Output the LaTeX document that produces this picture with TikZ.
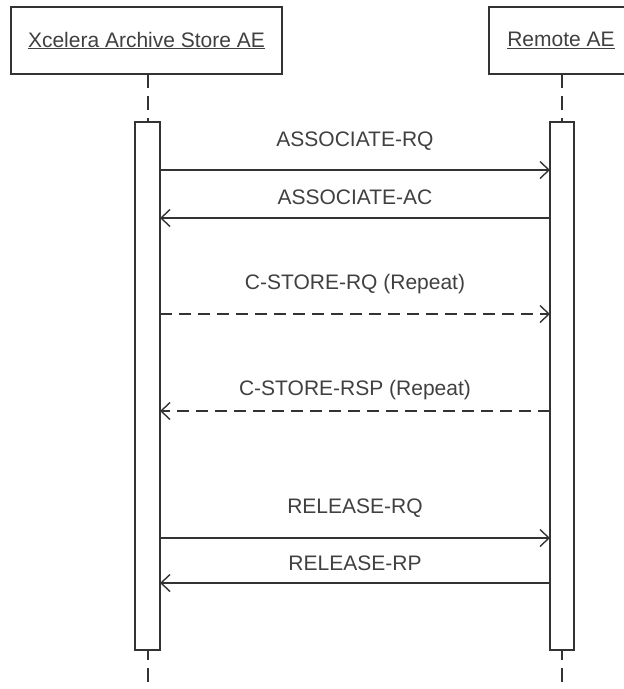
\documentclass[tikz,border=0pt]{standalone}
\usepackage{fontspec}
\setmainfont{Liberation Sans}
\usetikzlibrary{arrows.meta}

\begin{document}
\begin{tikzpicture}[x=1pt, y=-1pt,
        head/.style={draw=linegray, line width=1.6pt, fill=white, inner sep=0pt, outer sep=0pt, minimum height=67pt, text=textgray},
        bar/.style={draw=linegray, line width=1.4pt, fill=white, inner sep=0pt, outer sep=0pt, minimum width=24pt, minimum height=528pt},
        lifeline/.style={draw=linegray, line width=1.6pt, dash pattern=on 14pt off 8pt},
        msg/.style={draw=linegray, line width=1.4pt, -{Straight Barb[length=9pt, width=17pt, line width=1.4pt]}},
        msgdash/.style={msg, dash pattern=on 12pt off 7pt},
        msglabel/.style={text=textgray, inner sep=0pt}]
        % Define colors for lines and texts
        \definecolor{linegray}{rgb}{0.2, 0.2, 0.2} % Dark grey lines
        \definecolor{textgray}{rgb}{0.25, 0.25, 0.25} % Dark grey text
        
        % Fix the picture size and cut the right head at the border
        \useasboundingbox (0,0) rectangle (624,689);
        \clip (0,0) rectangle (624,689);
        \fontsize{21}{24}\selectfont
        
        % Draw lifelines
        \draw[lifeline] (148,74) -- (148,689); % Archive store
        \draw[lifeline] (562,74) -- (562,689); % Remote
        
        % Draw object heads
        \node[head, minimum width=271pt] (store) at (146.5,40.5) {\underline{Xcelera Archive Store AE}};
        \node[head, minimum width=144pt] (remote) at (561,40.5) {\underline{Remote AE}};
        
        % Draw activation bars
        \node[bar, minimum width=25pt] (storebar) at (147.5,386) {};
        \node[bar] (remotebar) at (562,386) {};
        
        % Message rows
        \coordinate (assocrq) at (0,170);
        \coordinate (assocac) at (0,218);
        \coordinate (storerq) at (0,314);
        \coordinate (storersp) at (0,411);
        \coordinate (releaserq) at (0,538);
        \coordinate (releaserp) at (0,583);
        
        % Draw messages
        \draw[msg] (storebar.east |- assocrq) -- (remotebar.west |- assocrq); % Request association
        \draw[msg] (remotebar.west |- assocac) -- (storebar.east |- assocac); % Accept association
        \draw[msgdash] (storebar.east |- storerq) -- (remotebar.west |- storerq); % Store request
        \draw[msgdash] (remotebar.west |- storersp) -- (storebar.east |- storersp); % Store response
        \draw[msg] (storebar.east |- releaserq) -- (remotebar.west |- releaserq); % Release request
        \draw[msg] (remotebar.west |- releaserp) -- (storebar.east |- releaserp); % Release response
        
        % Message labels
        \node[msglabel] (assocrqlabel) at (355,141) {ASSOCIATE-RQ};
        \node[msglabel] (assocaclabel) at (355,197) {ASSOCIATE-AC};
        \node[msglabel] (storerqlabel) at (355,284) {C-STORE-RQ (Repeat)};
        \node[msglabel] (storersplabel) at (355,390) {C-STORE-RSP (Repeat)};
        \node[msglabel] (releaserqlabel) at (355,508) {RELEASE-RQ};
        \node[msglabel] (releaserplabel) at (355,563) {RELEASE-RP};
        \end{tikzpicture}
\end{document}
